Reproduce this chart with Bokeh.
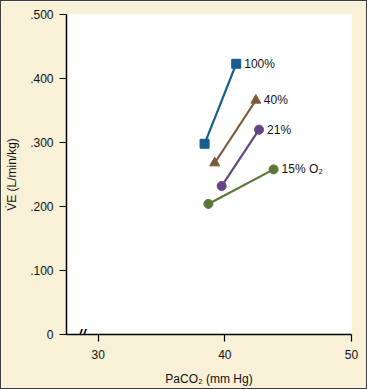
from bokeh.plotting import figure
from bokeh.models import FixedTicker, Range1d
from bokeh.core.properties import value
from bokeh.embed import file_html
from bokeh.resources import INLINE

# Data (PaCO2 in mm Hg, VE in L/min/kg)
series = ["100%", "40%", "21%", "15% O\u2082"]
paco2 = [[38.4, 40.9], [39.2, 42.45], [39.75, 42.7], [38.7, 43.85]]
ve = [[0.298, 0.423], [0.268, 0.366], [0.232, 0.320], [0.204, 0.258]]
markers = ["square", "triangle", "circle", "circle"]
colors = ["#165d8e", "#7a5a37", "#634686", "#587838"]

x_ticks = [30, 40, 50]
y_ticks = [0, 0.1, 0.2, 0.3, 0.4, 0.5]
y_tick_labels = {0: "0", 0.1: ".100", 0.2: ".200", 0.3: ".300", 0.4: ".400", 0.5: ".500"}
x_break = 28.7

FONT = "Liberation Sans"
BG = "#f8f0d7"

p = figure(width=367, height=389, output_backend="svg", toolbar_location=None,
           x_range=Range1d(27.5, 50), y_range=Range1d(0, 0.5),
           min_border_left=65, min_border_right=17, min_border_top=13, min_border_bottom=56)
p.styles = {"border": "1px solid #3c3c3c", "box-sizing": "border-box"}
p.background_fill_color = "white"
p.border_fill_color = BG
p.outline_line_color = None
p.grid.visible = False

for ax in (p.xaxis[0], p.yaxis[0]):
    ax.axis_line_color = "black"
    ax.axis_line_width = 1.5
    ax.major_tick_line_color = "black"
    ax.major_tick_line_width = 1.2
    ax.major_tick_in = 0
    ax.major_tick_out = 7
    ax.minor_tick_line_color = None
    ax.major_label_text_font = FONT
    ax.major_label_text_font_size = "12px"
    ax.major_label_text_color = "#111111"
    ax.axis_label_text_font = FONT
    ax.axis_label_text_font_size = "12px"
    ax.axis_label_text_font_style = "normal"
    ax.axis_label_text_color = "#111111"

p.xaxis.ticker = FixedTicker(ticks=x_ticks)
p.yaxis.ticker = FixedTicker(ticks=y_ticks)
p.yaxis.major_label_overrides = y_tick_labels
p.xaxis.axis_label = "PaCO\u2082 (mm Hg)"
p.yaxis.axis_label = "V\u0307E (L/min/kg)"
p.xaxis.major_label_standoff = 8
p.yaxis.major_label_standoff = 6
p.xaxis.axis_label_standoff = 10
p.yaxis.axis_label_standoff = 8

for name, xs, ys, m, c in zip(series, paco2, ve, markers, colors):
    p.line(xs, ys, line_color=c, line_width=2.2)
    p.scatter(xs, ys, marker=m, size=9 if m != "triangle" else 10,
              fill_color=c, line_color=c)
    p.text([xs[1]], [ys[1]], text=[name], x_offset=8, text_baseline="middle",
           text_align="left", text_font=value(FONT), text_font_size="12px",
           text_color="#111111")

p.text([x_break], [0], text=["//"], text_align="center", text_baseline="middle",
       text_font=value(FONT), text_font_size="14px", text_font_style="bold italic",
       text_color="black")

open("out.html", "w").write(file_html(p, INLINE))
